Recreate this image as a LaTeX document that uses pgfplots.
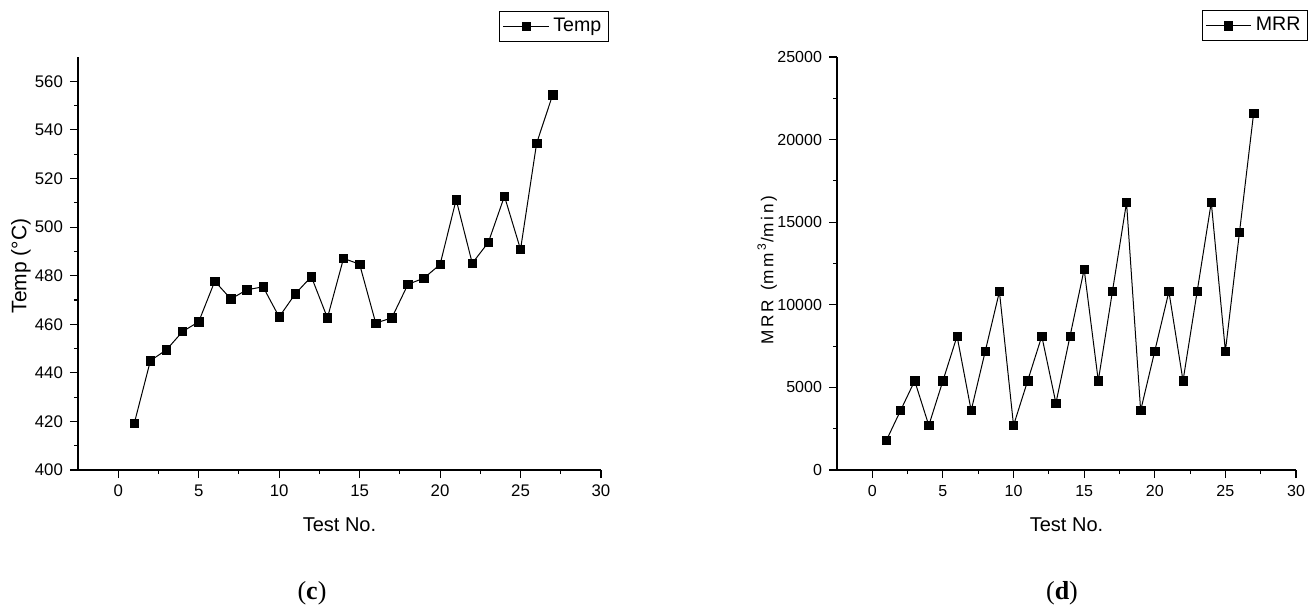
\documentclass[border=0pt]{standalone}
\usepackage{fontspec}
\setmainfont{Liberation Sans}
\newfontfamily\seriffont{Liberation Serif}
\usepackage{pgfplots}
\pgfplotsset{compat=1.18}

% Origin-style panel: only left and bottom axis lines, outward ticks
\pgfplotsset{
  originstyle/.style={
    scale only axis,
    clip=false,
    axis x line*=bottom,
    axis y line*=left,
    axis line style={-, line width=0.65pt},
    tick align=outside,
    major tick length=4pt,
    minor tick length=2pt,
    every tick/.style={black, line width=0.55pt},
    minor tick num=1,
    xmin=-2.5, xmax=30,
    xtick={0,5,...,30},
    /pgf/number format/assume math mode=true,
    /pgf/number format/1000 sep={},
    tick label style={font=\fontsize{8.4}{10}\selectfont},
    xlabel={Test No.},
    xlabel style={font=\fontsize{10}{12}\selectfont,
      at={(axis description cs:0.5,-0.133)}, anchor=center},
    legend style={draw=black, line width=0.5pt, font=\fontsize{9.8}{11}\selectfont,
      inner xsep=1.5pt, inner ysep=1.5pt, anchor=north east},
    legend image code/.code={\draw[#1, mark repeat=2, mark phase=2]
      plot coordinates {(0cm,0cm) (0.4cm,0cm) (0.8cm,0cm)};},
  },
  sq/.style={black, line width=0.5pt, mark=square*, mark size=2.1pt,
    mark options={fill=black, line width=0.3pt}},
}

\begin{document}
\begin{tikzpicture}
\useasboundingbox (0,0) rectangle (657pt,-306pt);

\begin{axis}[originstyle,
  at={(39pt,-235pt)}, anchor=south west,
  width=261.5pt, height=206.5pt,
  ymin=400, ymax=570,
  ytick={400,420,...,560},
  ylabel={Temp (°C)},
  ylabel style={font=\fontsize{10.5}{12}\selectfont,
    at={(axis description cs:-0.109,0.494)}, anchor=center},
  legend style={at={(axis description cs:1.015,1.112)}},
]
\addplot[sq] coordinates {
 (1,419.3) (2,445.0) (3,449.5) (4,457.0) (5,461.0) (6,477.7) (7,470.4)
 (8,474.2) (9,475.4) (10,463.0) (11,472.5) (12,479.6) (13,462.6) (14,487.1)
 (15,484.7) (16,460.5) (17,462.6) (18,476.4) (19,479.0) (20,484.6) (21,511.3)
 (22,485.1) (23,493.7) (24,512.7) (25,490.8) (26,534.5) (27,554.5)
};
\addlegendentry{Temp}
\end{axis}

\begin{axis}[originstyle,
  at={(418.5pt,-235pt)}, anchor=south west,
  width=229.5pt, height=206.5pt,
  ymin=0, ymax=25000,
  ytick={0,5000,...,25000},
  scaled y ticks=false,
  tick label style={font=\fontsize{8}{9.5}\selectfont},
  ylabel={M\,R\,R\ \ (m\,m\,\textsuperscript{3}/m\,i\,n\,)},
  ylabel style={font=\fontsize{8.6}{10}\selectfont,
    at={(axis description cs:-0.152,0.484)}, anchor=center},
  legend style={at={(axis description cs:1.026,1.114)}},
]
\addplot[sq] coordinates {
 (1,1800) (2,3600) (3,5400) (4,2700) (5,5400) (6,8100) (7,3600)
 (8,7200) (9,10800) (10,2700) (11,5400) (12,8100) (13,4050) (14,8100)
 (15,12150) (16,5400) (17,10800) (18,16200) (19,3600) (20,7200) (21,10800)
 (22,5400) (23,10800) (24,16200) (25,7200) (26,14400) (27,21600)
};
\addlegendentry{MRR}
\end{axis}

\node[font=\seriffont\fontsize{13}{15}\selectfont] at (156pt,-296.5pt) {(\textbf{c})};
\node[font=\seriffont\fontsize{13}{15}\selectfont] at (531pt,-296.5pt) {(\textbf{d})};
\end{tikzpicture}
\end{document}
